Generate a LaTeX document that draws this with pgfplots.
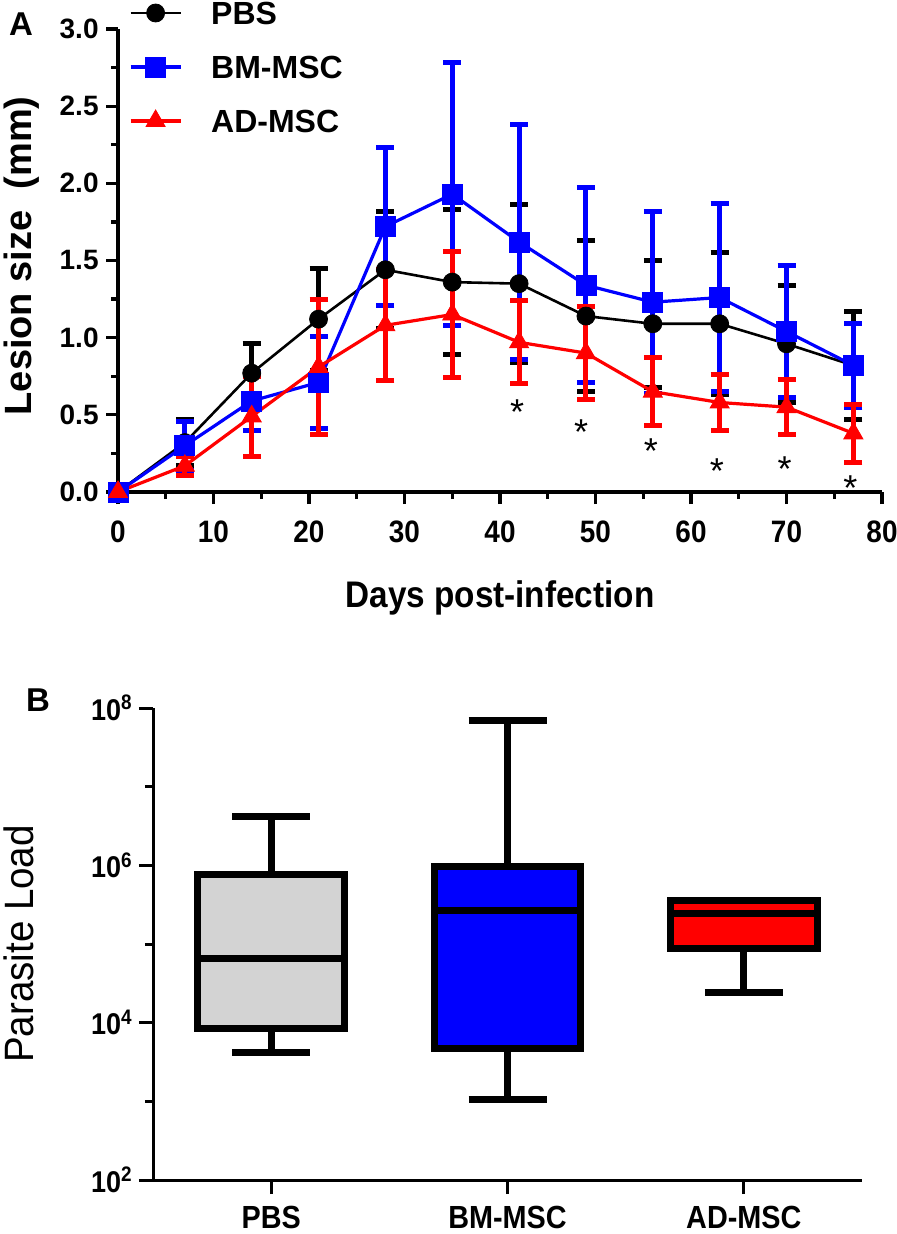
\documentclass[border=0pt]{standalone}
\usepackage{pgfplots}
\pgfplotsset{compat=1.18}
\usepackage{fontspec}
\setmainfont{Liberation Sans}
\newfontfamily\cf{Liberation Sans}[FakeStretch=0.9]
\newfontfamily\cfb{Liberation Sans}[FakeStretch=0.94]
\definecolor{pbsgray}{RGB}{211,211,211}

\pgfplotstableread{
x y e
0 0 0
7 0.32 0.15
14 0.77 0.19
21 1.12 0.33
28 1.44 0.38
35 1.36 0.47
42 1.35 0.51
49 1.14 0.49
56 1.09 0.41
63 1.09 0.46
70 0.96 0.38
77 0.82 0.35
}\pbs
\pgfplotstableread{
x y e
0 0 0
7 0.30 0.16
14 0.59 0.19
21 0.71 0.30
28 1.72 0.51
35 1.93 0.85
42 1.62 0.76
49 1.34 0.63
56 1.23 0.59
63 1.26 0.61
70 1.04 0.43
77 0.82 0.27
}\bm
\pgfplotstableread{
x y e
0 0 0
7 0.17 0.06
14 0.49 0.26
21 0.81 0.44
28 1.08 0.36
35 1.15 0.41
42 0.97 0.27
49 0.90 0.30
56 0.65 0.22
63 0.58 0.18
70 0.55 0.18
77 0.38 0.19
}\ad

\begin{document}
\begin{tikzpicture}
\useasboundingbox (0,0) rectangle (448pt,-617pt);

\node[font=\fontsize{16.5}{16.5}\selectfont\bfseries, inner sep=0pt] at (10.5pt,-12pt) {A};
\node[font=\fontsize{16.5}{16.5}\selectfont\bfseries, inner sep=0pt] at (19pt,-350pt) {B};

% ---------------- Panel A ----------------
\begin{axis}[
  at={(59pt,-246pt)}, anchor=south west,
  scale only axis, width=382pt, height=231.5pt,
  xmin=0, xmax=80, ymin=0, ymax=3,
  axis lines=left,
  axis line style={-, line width=1.6pt},
  clip=false,
  xtick={0,10,20,30,40,50,60,70,80},
  minor xtick={5,15,25,35,45,55,65,75},
  ytick={0,0.5,1.0,1.5,2.0,2.5,3.0},
  minor ytick={0.25,0.75,1.25,1.75,2.25,2.75},
  tick align=outside,
  major tick length=6pt, minor tick length=3.5pt,
  tick style={black, line width=1.6pt},
  /pgf/number format/assume math mode=true,
  yticklabel style={font=\fontsize{14}{14}\selectfont\bfseries, anchor=east, inner sep=0pt, xshift=-3.5pt,
    /pgf/number format/.cd, fixed, fixed zerofill, precision=1},
  xticklabel style={font=\fontsize{15.5}{15.5}\selectfont\cf\bfseries, anchor=north, inner sep=0pt, yshift=-8pt},
  every axis x label/.style={at={(axis description cs:0.5,0)}, anchor=base, yshift=-57.5pt, inner sep=0pt,
    font=\fontsize{18.5}{18.5}\selectfont\cf\bfseries},
  every axis y label/.style={at={(axis description cs:-0.1126,0.51)}, rotate=90, anchor=base, inner sep=0pt,
    font=\fontsize{19}{19}\selectfont\bfseries},
  xlabel={Days post-infection},
  ylabel={Lesion size\ \ (mm)},
  legend style={at={(axis description cs:0.0144,1.0594)}, anchor=north west, draw=none, fill=none,
    inner sep=0pt, outer sep=0pt, row sep=15.5pt,
    font=\fontsize{16}{16}\selectfont\bfseries,
    nodes={inner sep=0pt, text height=11.5pt, text depth=0pt},
    /tikz/every odd column/.append style={column sep=14.5pt}},
  legend cell align=left,
  legend image code/.code={%
    \draw[mark repeat=2,mark phase=2] plot coordinates {(0pt,0pt) (12.5pt,0pt) (25pt,0pt)};
  },
  error bars/y dir=both, error bars/y explicit,
  error bars/error mark=-,
  error bars/error bar style={line width=2.5pt},
  error bars/error mark options={rotate=90, mark size=4.5pt, line width=2.5pt},
]
\addplot[black, line width=1.3pt, mark=*, mark size=4.5pt, mark options={line width=0.4pt}]
  table[x=x, y=y, y error=e] {\pbs};
\addlegendentry{PBS}
\addplot[blue, line width=1.6pt, mark=square*, mark size=5pt, mark options={line width=0.4pt}]
  table[x=x, y=y, y error=e] {\bm};
\addlegendentry{BM-MSC}
\addplot[red, line width=1.6pt, mark=triangle*, mark size=5.5pt, mark options={line width=0.4pt}]
  table[x=x, y=y, y error=e] {\ad};
\addlegendentry{AD-MSC}
\addplot[forget plot, draw=none, mark=none, error bars/y dir=none,
  nodes near coords={*},
  every node near coord/.append style={anchor=north, inner sep=0pt, font=\fontsize{18}{18}\selectfont}]
  coordinates {(41.8,0.60) (48.5,0.47) (55.8,0.35) (62.7,0.22) (69.8,0.23) (76.7,0.11)};
\end{axis}

% ---------------- Panel B (values are log10 of parasite load) ----------------
% box plot values: lower whisker, lower quartile, median, upper quartile, upper whisker
% PBS:    3.62 3.92 4.82 5.89 6.62
% BM-MSC: 3.02 3.67 5.42 5.98 7.84
% AD-MSC: 4.39 4.94 5.39 5.55 5.55
\begin{axis}[
  at={(76.5pt,-590pt)}, anchor=south west,
  scale only axis, width=354.5pt, height=236pt,
  ymin=2, ymax=8, xmin=-0.5, xmax=2.5,
  axis lines=left,
  axis line style={-, line width=1.5pt},
  xtick={0,1,2}, xticklabels={PBS,BM-MSC,AD-MSC},
  ytick={2,4,6,8}, minor ytick={3,5,7},
  yticklabels={10\textsuperscript{2},10\textsuperscript{4},10\textsuperscript{6},10\textsuperscript{8}},
  tick align=outside,
  major tick length=7pt, minor tick length=4pt,
  tick style={black, line width=1.5pt},
  yticklabel style={font=\fontsize{15}{15}\selectfont\cf\bfseries, anchor=east, inner sep=0pt, xshift=-3pt},
  xticklabel style={font=\fontsize{16}{16}\selectfont\cf\bfseries, anchor=north, inner sep=0pt, yshift=-6pt},
  every axis y label/.style={at={(axis description cs:-0.169,0.5)}, rotate=90, anchor=base, inner sep=0pt,
    font=\fontsize{20.5}{20.5}\selectfont\cfb},
  ylabel={Parasite Load},
  every axis plot/.append style={line width=3.5pt, line join=miter, mark=none},
]
% PBS
\addplot[black] coordinates {(0,5.89) (0,6.62)};
\addplot[black] coordinates {(-0.165,6.62) (0.165,6.62)};
\addplot[black] coordinates {(0,3.92) (0,3.62)};
\addplot[black] coordinates {(-0.165,3.62) (0.165,3.62)};
\addplot[draw=black, fill=pbsgray] coordinates {(-0.31,3.92) (0.31,3.92) (0.31,5.89) (-0.31,5.89)} -- cycle;
\addplot[black] coordinates {(-0.31,4.82) (0.31,4.82)};
% BM-MSC
\addplot[black] coordinates {(1,5.98) (1,7.84)};
\addplot[black] coordinates {(0.835,7.84) (1.165,7.84)};
\addplot[black] coordinates {(1,3.67) (1,3.02)};
\addplot[black] coordinates {(0.835,3.02) (1.165,3.02)};
\addplot[draw=black, fill=blue] coordinates {(0.69,3.67) (1.31,3.67) (1.31,5.98) (0.69,5.98)} -- cycle;
\addplot[black] coordinates {(0.69,5.42) (1.31,5.42)};
% AD-MSC
\addplot[black] coordinates {(2,4.94) (2,4.39)};
\addplot[black] coordinates {(1.835,4.39) (2.165,4.39)};
\addplot[draw=black, fill=red] coordinates {(1.69,4.94) (2.31,4.94) (2.31,5.55) (1.69,5.55)} -- cycle;
\addplot[black] coordinates {(1.69,5.39) (2.31,5.39)};
\end{axis}
\end{tikzpicture}
\end{document}
